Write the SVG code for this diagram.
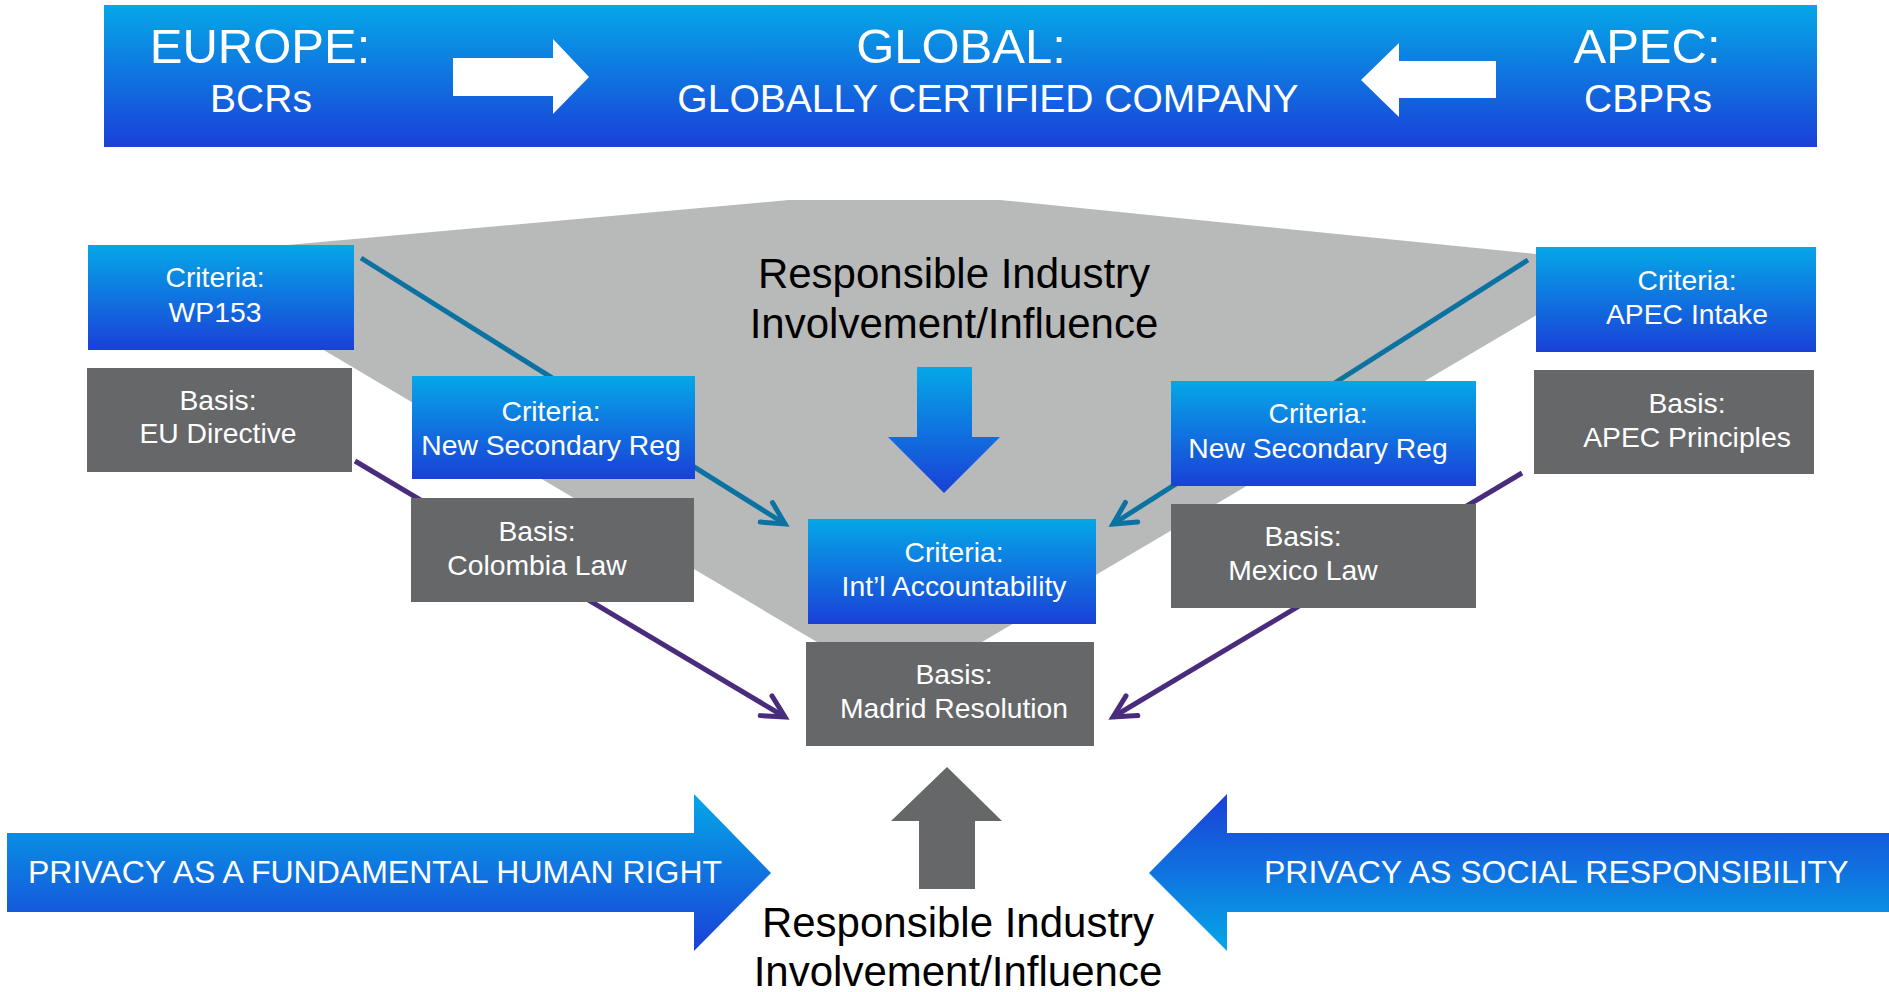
<svg xmlns="http://www.w3.org/2000/svg" width="1889" height="992" viewBox="0 0 1889 992">
<defs>
<linearGradient id="gBlue" x1="0" y1="0" x2="0" y2="1">
<stop offset="0" stop-color="#05A7E7"/>
<stop offset="1" stop-color="#1A40D8"/>
</linearGradient>
<linearGradient id="gBlueRev" x1="0" y1="1" x2="0" y2="0">
<stop offset="0" stop-color="#05A7E7"/>
<stop offset="1" stop-color="#1A40D8"/>
</linearGradient>
<marker id="mTeal" markerUnits="userSpaceOnUse" markerWidth="40" markerHeight="40" refX="0" refY="0" orient="auto" overflow="visible">
<path d="M-22,-11.5 L0,0 L-22,11.5" fill="none" stroke="#0B72A2" stroke-width="5" stroke-linecap="round" stroke-linejoin="miter"/>
</marker>
<marker id="mPurple" markerUnits="userSpaceOnUse" markerWidth="40" markerHeight="40" refX="0" refY="0" orient="auto" overflow="visible">
<path d="M-22,-11.5 L0,0 L-22,11.5" fill="none" stroke="#4A2C7C" stroke-width="5" stroke-linecap="round" stroke-linejoin="miter"/>
</marker>
</defs>
<style>
.blue{fill:url(#gBlue);}
.gray{fill:#666769;}
.bt{font-family:"Liberation Sans",Arial,sans-serif;font-size:28.3px;fill:#FFFFFF;text-anchor:middle;}
.big{font-family:"Liberation Sans",Arial,sans-serif;font-size:42px;fill:#000000;text-anchor:middle;}
.hd1{font-family:"Liberation Sans",Arial,sans-serif;font-size:49px;fill:#FFFFFF;text-anchor:middle;}
.hd2{font-family:"Liberation Sans",Arial,sans-serif;font-size:39px;fill:#FFFFFF;text-anchor:middle;}
.arr{font-family:"Liberation Sans",Arial,sans-serif;font-size:32px;fill:#FFFFFF;}
.teal{fill:none;stroke:#0B72A2;stroke-width:5;marker-end:url(#mTeal);}
.purp{fill:none;stroke:#4A2C7C;stroke-width:5;marker-end:url(#mPurple);}
</style>

<g id="banner">
<rect x="104" y="5" width="1713" height="142" class="blue"/>
<text x="260" y="63" class="hd1">EUROPE:</text>
<text x="261" y="112" class="hd2">BCRs</text>
<text x="961" y="63" class="hd1">GLOBAL:</text>
<text x="988" y="112" class="hd2">GLOBALLY CERTIFIED COMPANY</text>
<text x="1647" y="63" class="hd1">APEC:</text>
<text x="1648" y="112" class="hd2">CBPRs</text>
<polygon points="453,58 553,58 553,39 589,77 553,114 553,96 453,96" fill="#FFFFFF"/>
<polygon points="1496,61 1399,61 1399,43 1361,80 1399,117 1399,98 1496,98" fill="#FFFFFF"/>
</g>

<g id="funnel">
<polygon points="165,256 789,200 1000,200 1625,263 982,642 817,642" fill="#B8B9B9"/>
<text x="954" y="288" class="big">Responsible Industry</text>
<text x="954" y="338" class="big">Involvement/Influence</text>
<polygon points="917,367 972,367 972,437 1000,437 944,493 888,437 917,437" class="blue"/>
</g>

<g id="connectors">
<path d="M361,258 L785,524" class="teal"/>
<path d="M1528,260 L1113,524" class="teal"/>
<path d="M355,461 L785,717" class="purp"/>
<path d="M1522,473 L1113,717" class="purp"/>
</g>

<g id="wp153">
<rect x="88" y="245" width="266" height="105" class="blue"/>
<text x="215" y="287" class="bt">Criteria:</text>
<text x="215" y="322" class="bt">WP153</text>
</g>
<g id="eu-directive">
<rect x="87" y="368" width="265" height="104" class="gray"/>
<text x="218" y="410" class="bt">Basis:</text>
<text x="218" y="443" class="bt">EU Directive</text>
</g>
<g id="nsr-left">
<rect x="412" y="376" width="283" height="103" class="blue"/>
<text x="551" y="421" class="bt">Criteria:</text>
<text x="551" y="455" class="bt">New Secondary Reg</text>
</g>
<g id="colombia">
<rect x="411" y="498" width="283" height="104" class="gray"/>
<text x="537" y="541" class="bt">Basis:</text>
<text x="537" y="575" class="bt">Colombia Law</text>
</g>
<g id="apec-intake">
<rect x="1536" y="247" width="280" height="105" class="blue"/>
<text x="1687" y="290" class="bt">Criteria:</text>
<text x="1687" y="324" class="bt">APEC Intake</text>
</g>
<g id="apec-principles">
<rect x="1534" y="370" width="280" height="104" class="gray"/>
<text x="1687" y="413" class="bt">Basis:</text>
<text x="1687" y="447" class="bt">APEC Principles</text>
</g>
<g id="nsr-right">
<rect x="1171" y="381" width="305" height="105" class="blue"/>
<text x="1318" y="423" class="bt">Criteria:</text>
<text x="1318" y="458" class="bt">New Secondary Reg</text>
</g>
<g id="mexico">
<rect x="1171" y="504" width="305" height="104" class="gray"/>
<text x="1303" y="546" class="bt">Basis:</text>
<text x="1303" y="580" class="bt">Mexico Law</text>
</g>
<g id="intl-accountability">
<rect x="808" y="519" width="288" height="105" class="blue"/>
<text x="954" y="562" class="bt">Criteria:</text>
<text x="954" y="596" class="bt">Int’l Accountability</text>
</g>
<g id="madrid">
<rect x="806" y="642" width="288" height="104" class="gray"/>
<text x="954" y="684" class="bt">Basis:</text>
<text x="954" y="718" class="bt">Madrid Resolution</text>
</g>

<g id="industry-up">
<polygon points="919,889 975,889 975,821 1002,821 947,767 891,821 919,821" fill="#666769"/>
<text x="958" y="937" class="big">Responsible Industry</text>
<text x="958" y="986" class="big">Involvement/Influence</text>
</g>

<g id="human-right">
<polygon points="7,833 694,833 694,794 771,873 694,951 694,912 7,912" class="blue"/>
<text x="28" y="883" class="arr">PRIVACY AS A FUNDAMENTAL HUMAN RIGHT</text>
</g>
<g id="social-resp">
<polygon points="1889,833 1227,833 1227,794 1149,873 1227,951 1227,912 1889,912" fill="url(#gBlueRev)"/>
<text x="1264" y="883" class="arr">PRIVACY AS SOCIAL RESPONSIBILITY</text>
</g>
</svg>
